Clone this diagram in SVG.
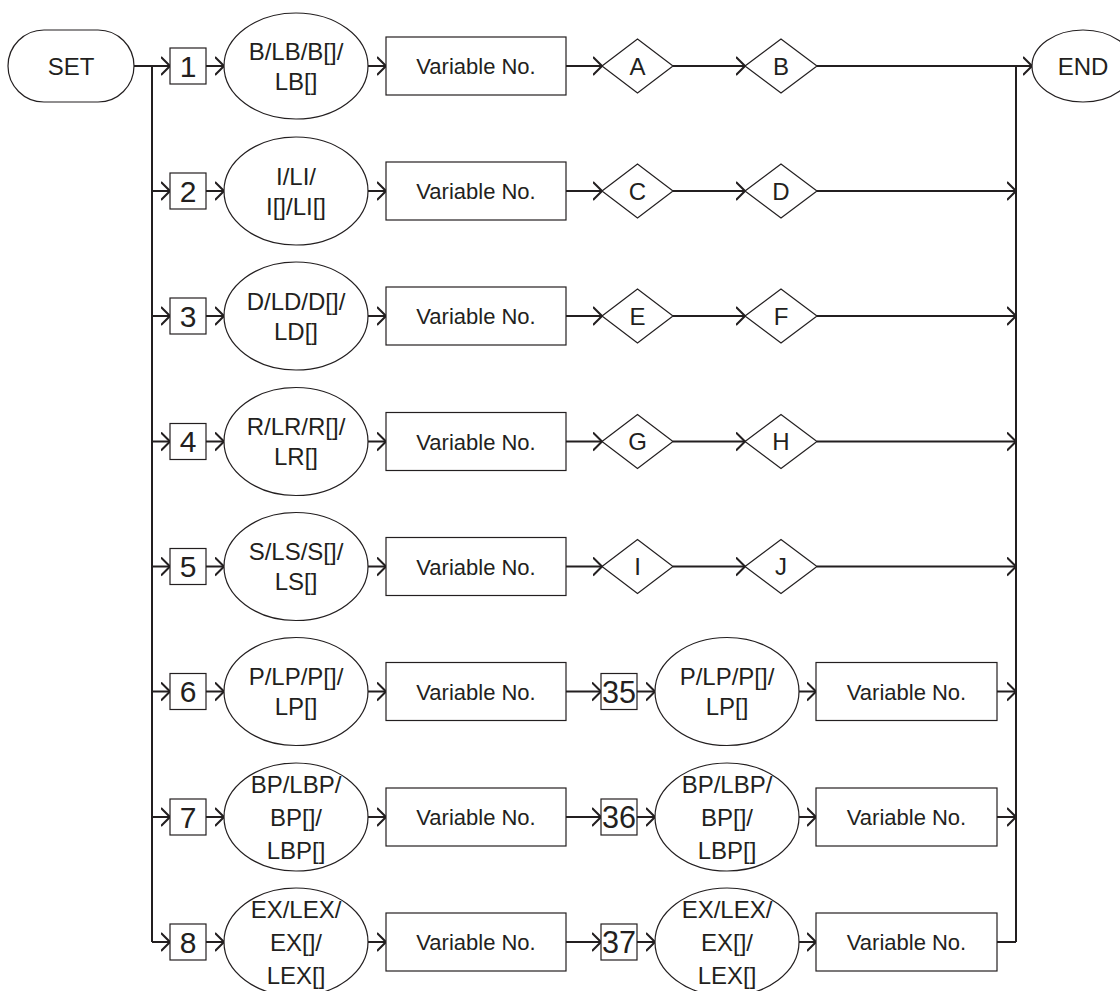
<svg xmlns="http://www.w3.org/2000/svg" width="1120" height="991" viewBox="0 0 1120 991">
<style>
.sh{fill:#fff;stroke:#231f20;stroke-width:1.2}
.cn{fill:none;stroke:#231f20;stroke-width:2}
.t{font-family:"Liberation Sans",Arial,Helvetica,sans-serif;fill:#231f20;text-anchor:middle}
.e{font-size:24px}
.v{font-size:22px}
.n{font-size:30px}
.nn{font-size:31px}
</style>
<defs>
<marker id="ah" markerUnits="userSpaceOnUse" viewBox="0 0 10 20" refX="9.5" refY="10" markerWidth="10" markerHeight="20" orient="auto">
<path d="M0.5,1 L9.5,10 L0.5,19" fill="none" stroke="#231f20" stroke-width="2"/>
</marker>
</defs>
<rect width="1120" height="991" fill="#fff"/>
<g id="connectors" class="cn">
<line x1="152" y1="66" x2="152" y2="942"/>
<line x1="1016" y1="66" x2="1016" y2="942"/>
<line x1="134" y1="66" x2="170" y2="66" marker-end="url(#ah)"/>
<line x1="152" y1="191" x2="170" y2="191" marker-end="url(#ah)"/>
<line x1="152" y1="316" x2="170" y2="316" marker-end="url(#ah)"/>
<line x1="152" y1="441.5" x2="170" y2="441.5" marker-end="url(#ah)"/>
<line x1="152" y1="566.5" x2="170" y2="566.5" marker-end="url(#ah)"/>
<line x1="152" y1="691.5" x2="170" y2="691.5" marker-end="url(#ah)"/>
<line x1="152" y1="817" x2="170" y2="817" marker-end="url(#ah)"/>
<line x1="152" y1="942" x2="170" y2="942" marker-end="url(#ah)"/>
<line x1="206" y1="66" x2="224" y2="66" marker-end="url(#ah)"/>
<line x1="206" y1="191" x2="224" y2="191" marker-end="url(#ah)"/>
<line x1="206" y1="316" x2="224" y2="316" marker-end="url(#ah)"/>
<line x1="206" y1="441.5" x2="224" y2="441.5" marker-end="url(#ah)"/>
<line x1="206" y1="566.5" x2="224" y2="566.5" marker-end="url(#ah)"/>
<line x1="206" y1="691.5" x2="224" y2="691.5" marker-end="url(#ah)"/>
<line x1="206" y1="817" x2="224" y2="817" marker-end="url(#ah)"/>
<line x1="206" y1="942" x2="224" y2="942" marker-end="url(#ah)"/>
<line x1="368" y1="66" x2="386" y2="66" marker-end="url(#ah)"/>
<line x1="368" y1="191" x2="386" y2="191" marker-end="url(#ah)"/>
<line x1="368" y1="316" x2="386" y2="316" marker-end="url(#ah)"/>
<line x1="368" y1="441.5" x2="386" y2="441.5" marker-end="url(#ah)"/>
<line x1="368" y1="566.5" x2="386" y2="566.5" marker-end="url(#ah)"/>
<line x1="368" y1="691.5" x2="386" y2="691.5" marker-end="url(#ah)"/>
<line x1="368" y1="817" x2="386" y2="817" marker-end="url(#ah)"/>
<line x1="368" y1="942" x2="386" y2="942" marker-end="url(#ah)"/>
<line x1="566" y1="66" x2="602" y2="66" marker-end="url(#ah)"/>
<line x1="566" y1="191" x2="602" y2="191" marker-end="url(#ah)"/>
<line x1="566" y1="316" x2="602" y2="316" marker-end="url(#ah)"/>
<line x1="566" y1="441.5" x2="602" y2="441.5" marker-end="url(#ah)"/>
<line x1="566" y1="566.5" x2="602" y2="566.5" marker-end="url(#ah)"/>
<line x1="566" y1="691.5" x2="601" y2="691.5" marker-end="url(#ah)"/>
<line x1="566" y1="817" x2="601" y2="817" marker-end="url(#ah)"/>
<line x1="566" y1="942" x2="601" y2="942" marker-end="url(#ah)"/>
<line x1="673" y1="66" x2="745" y2="66" marker-end="url(#ah)"/>
<line x1="673" y1="191" x2="745" y2="191" marker-end="url(#ah)"/>
<line x1="673" y1="316" x2="745" y2="316" marker-end="url(#ah)"/>
<line x1="673" y1="441.5" x2="745" y2="441.5" marker-end="url(#ah)"/>
<line x1="673" y1="566.5" x2="745" y2="566.5" marker-end="url(#ah)"/>
<line x1="817" y1="66" x2="1032" y2="66" marker-end="url(#ah)"/>
<line x1="817" y1="191" x2="1016" y2="191" marker-end="url(#ah)"/>
<line x1="817" y1="316" x2="1016" y2="316" marker-end="url(#ah)"/>
<line x1="817" y1="441.5" x2="1016" y2="441.5" marker-end="url(#ah)"/>
<line x1="817" y1="566.5" x2="1016" y2="566.5" marker-end="url(#ah)"/>
<line x1="637" y1="691.5" x2="655" y2="691.5" marker-end="url(#ah)"/>
<line x1="637" y1="817" x2="655" y2="817" marker-end="url(#ah)"/>
<line x1="637" y1="942" x2="655" y2="942" marker-end="url(#ah)"/>
<line x1="799" y1="691.5" x2="816" y2="691.5" marker-end="url(#ah)"/>
<line x1="799" y1="817" x2="816" y2="817" marker-end="url(#ah)"/>
<line x1="799" y1="942" x2="816" y2="942" marker-end="url(#ah)"/>
<line x1="997" y1="691.5" x2="1016" y2="691.5" marker-end="url(#ah)"/>
<line x1="997" y1="817" x2="1016" y2="817" marker-end="url(#ah)"/>
<line x1="997" y1="942" x2="1016" y2="942"/>
</g>
<g id="set"><rect class="sh" x="8" y="30" width="126" height="72" rx="36" ry="36"/><text class="t e" x="71" y="74.5">SET</text></g>
<g id="end"><ellipse class="sh" cx="1083" cy="66" rx="51" ry="36"/><text class="t e" x="1083" y="74.5">END</text></g>

<g id="box1"><rect class="sh" x="170" y="48" width="36" height="36"/><text class="t n" x="188" y="76.5">1</text></g>
<g id="box2"><rect class="sh" x="170" y="173" width="36" height="36"/><text class="t n" x="188" y="201.5">2</text></g>
<g id="box3"><rect class="sh" x="170" y="298" width="36" height="36"/><text class="t n" x="188" y="326.5">3</text></g>
<g id="box4"><rect class="sh" x="170" y="423.5" width="36" height="36"/><text class="t n" x="188" y="452">4</text></g>
<g id="box5"><rect class="sh" x="170" y="548.5" width="36" height="36"/><text class="t n" x="188" y="577">5</text></g>
<g id="box6"><rect class="sh" x="170" y="673.5" width="36" height="36"/><text class="t n" x="188" y="702">6</text></g>
<g id="box7"><rect class="sh" x="170" y="799" width="36" height="36"/><text class="t n" x="188" y="827.5">7</text></g>
<g id="box8"><rect class="sh" x="170" y="924" width="36" height="36"/><text class="t n" x="188" y="952.5">8</text></g>

<g id="type1"><ellipse class="sh" cx="296" cy="66" rx="72" ry="53"/><text class="t e" x="296" y="59.5">B/LB/B[]/</text><text class="t e" x="296" y="89.5">LB[]</text></g>
<g id="type2"><ellipse class="sh" cx="296" cy="191" rx="72" ry="54"/><text class="t e" x="296" y="184.5">I/LI/</text><text class="t e" x="296" y="214.5">I[]/LI[]</text></g>
<g id="type3"><ellipse class="sh" cx="296" cy="316" rx="72" ry="54"/><text class="t e" x="296" y="309.5">D/LD/D[]/</text><text class="t e" x="296" y="339.5">LD[]</text></g>
<g id="type4"><ellipse class="sh" cx="296" cy="441.5" rx="72" ry="54"/><text class="t e" x="296" y="435">R/LR/R[]/</text><text class="t e" x="296" y="465">LR[]</text></g>
<g id="type5"><ellipse class="sh" cx="296" cy="566.5" rx="72" ry="54"/><text class="t e" x="296" y="560">S/LS/S[]/</text><text class="t e" x="296" y="590">LS[]</text></g>
<g id="type6"><ellipse class="sh" cx="296" cy="691.5" rx="72" ry="54"/><text class="t e" x="296" y="685">P/LP/P[]/</text><text class="t e" x="296" y="715">LP[]</text></g>
<g id="type7"><ellipse class="sh" cx="296" cy="817" rx="72" ry="54"/><text class="t e" x="296" y="792.5">BP/LBP/</text><text class="t e" x="296" y="825.5">BP[]/</text><text class="t e" x="296" y="858.5">LBP[]</text></g>
<g id="type8"><ellipse class="sh" cx="296" cy="942" rx="72" ry="54"/><text class="t e" x="296" y="917.5">EX/LEX/</text><text class="t e" x="296" y="950.5">EX[]/</text><text class="t e" x="296" y="983.5">LEX[]</text></g>

<g id="var1"><rect class="sh" x="386" y="37" width="180" height="58"/><text class="t v" x="476" y="74">Variable No.</text></g>
<g id="var2"><rect class="sh" x="386" y="162" width="180" height="58"/><text class="t v" x="476" y="199">Variable No.</text></g>
<g id="var3"><rect class="sh" x="386" y="287" width="180" height="58"/><text class="t v" x="476" y="324">Variable No.</text></g>
<g id="var4"><rect class="sh" x="386" y="412.5" width="180" height="58"/><text class="t v" x="476" y="449.5">Variable No.</text></g>
<g id="var5"><rect class="sh" x="386" y="537.5" width="180" height="58"/><text class="t v" x="476" y="574.5">Variable No.</text></g>
<g id="var6"><rect class="sh" x="386" y="662.5" width="180" height="58"/><text class="t v" x="476" y="699.5">Variable No.</text></g>
<g id="var7"><rect class="sh" x="386" y="788" width="180" height="58"/><text class="t v" x="476" y="825">Variable No.</text></g>
<g id="var8"><rect class="sh" x="386" y="913" width="180" height="58"/><text class="t v" x="476" y="950">Variable No.</text></g>

<g id="dA"><polygon class="sh" points="602,66 637.5,39 673,66 637.5,93"/><text class="t e" x="637.5" y="74.5">A</text></g>
<g id="dB"><polygon class="sh" points="745,66 781,39 817,66 781,93"/><text class="t e" x="781" y="74.5">B</text></g>
<g id="dC"><polygon class="sh" points="602,191 637.5,164 673,191 637.5,218"/><text class="t e" x="637.5" y="199.5">C</text></g>
<g id="dD"><polygon class="sh" points="745,191 781,164 817,191 781,218"/><text class="t e" x="781" y="199.5">D</text></g>
<g id="dE"><polygon class="sh" points="602,316 637.5,289 673,316 637.5,343"/><text class="t e" x="637.5" y="324.5">E</text></g>
<g id="dF"><polygon class="sh" points="745,316 781,289 817,316 781,343"/><text class="t e" x="781" y="324.5">F</text></g>
<g id="dG"><polygon class="sh" points="602,441.5 637.5,414.5 673,441.5 637.5,468.5"/><text class="t e" x="637.5" y="450">G</text></g>
<g id="dH"><polygon class="sh" points="745,441.5 781,414.5 817,441.5 781,468.5"/><text class="t e" x="781" y="450">H</text></g>
<g id="dI"><polygon class="sh" points="602,566.5 637.5,539.5 673,566.5 637.5,593.5"/><text class="t e" x="637.5" y="575">I</text></g>
<g id="dJ"><polygon class="sh" points="745,566.5 781,539.5 817,566.5 781,593.5"/><text class="t e" x="781" y="575">J</text></g>

<g id="box35"><rect class="sh" x="601" y="673.5" width="36" height="36"/><text class="t nn" x="619" y="702.5" textLength="34" lengthAdjust="spacingAndGlyphs">35</text></g>
<g id="box36"><rect class="sh" x="601" y="799" width="36" height="36"/><text class="t nn" x="619" y="828" textLength="34" lengthAdjust="spacingAndGlyphs">36</text></g>
<g id="box37"><rect class="sh" x="601" y="924" width="36" height="36"/><text class="t nn" x="619" y="953" textLength="34" lengthAdjust="spacingAndGlyphs">37</text></g>

<g id="type6b"><ellipse class="sh" cx="727" cy="691.5" rx="72" ry="54"/><text class="t e" x="727" y="685">P/LP/P[]/</text><text class="t e" x="727" y="715">LP[]</text></g>
<g id="type7b"><ellipse class="sh" cx="727" cy="817" rx="72" ry="54"/><text class="t e" x="727" y="792.5">BP/LBP/</text><text class="t e" x="727" y="825.5">BP[]/</text><text class="t e" x="727" y="858.5">LBP[]</text></g>
<g id="type8b"><ellipse class="sh" cx="727" cy="942" rx="72" ry="54"/><text class="t e" x="727" y="917.5">EX/LEX/</text><text class="t e" x="727" y="950.5">EX[]/</text><text class="t e" x="727" y="983.5">LEX[]</text></g>

<g id="var6b"><rect class="sh" x="816" y="662.5" width="181" height="58"/><text class="t v" x="906.5" y="699.5">Variable No.</text></g>
<g id="var7b"><rect class="sh" x="816" y="788" width="181" height="58"/><text class="t v" x="906.5" y="825">Variable No.</text></g>
<g id="var8b"><rect class="sh" x="816" y="913" width="181" height="58"/><text class="t v" x="906.5" y="950">Variable No.</text></g>
</svg>
